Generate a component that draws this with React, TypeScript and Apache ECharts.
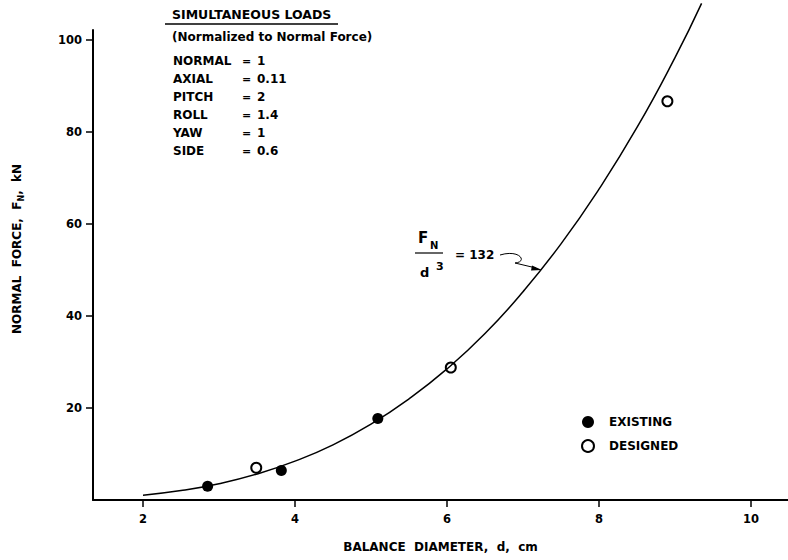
import React, { useEffect, useRef } from 'react';
import * as echarts from 'echarts';

const xTicks = [2, 4, 6, 8, 10];
const yTicks = [20, 40, 60, 80, 100];
const curveD = [2, 2.5, 3, 3.5, 4, 4.5, 5, 5.5, 6, 6.5, 7, 7.5, 8, 8.5, 9, 9.35];
const curveF = [1.05, 2.05, 3.55, 5.65, 8.45, 12.0, 16.5, 22.0, 28.5, 36.2, 45.3, 55.7, 67.6, 81.0, 96.2, 108];
const existingD = [2.85, 3.82, 5.09];
const existingF = [3.0, 6.4, 17.7];
const designedD = [3.49, 6.05, 8.9];
const designedF = [7.0, 28.8, 86.7];
const loadNames = ['NORMAL', 'AXIAL', 'PITCH', 'ROLL', 'YAW', 'SIDE'];
const loadValues = ['1', '0.11', '2', '1.4', '1', '0.6'];

const FONT = "'DejaVu Sans', 'Liberation Sans', sans-serif";

export default function App() {
  const ref = useRef<HTMLDivElement>(null);
  useEffect(() => {
    if (!ref.current) return;
    const chart = echarts.init(ref.current, null, { renderer: 'svg' });
    const txt = (text: string, x: number, y: number, size = 10, extra: any = {}) => ({
      type: 'text',
      x,
      y,
      style: { text, fill: '#000', font: `bold ${size}px ${FONT}`, textVerticalAlign: 'middle', ...extra },
    });
    const graphics: any[] = [
      txt('SIMULTANEOUS LOADS', 172, 14, 12.5),
      { type: 'line', shape: { x1: 165, y1: 24, x2: 338, y2: 24 }, style: { stroke: '#000', lineWidth: 1.5 } },
      txt('(Normalized to Normal Force)', 172, 37, 12),
    ];
    loadNames.forEach((n, i) => {
      const y = 61 + i * 18;
      graphics.push(txt(n, 173, y, 12));
      graphics.push(txt('=', 242, y, 11));
      graphics.push(txt(loadValues[i], 257, y, 12));
    });
    // Y axis name
    graphics.push({
      type: 'text',
      x: 17,
      y: 334,
      rotation: Math.PI / 2,
      style: {
        text: 'NORMAL  FORCE,  F{sub|N},  kN',
        fill: '#000',
        font: `bold 12px ${FONT}`,
        align: 'left',
        verticalAlign: 'middle',
        rich: {
          sub: { fontSize: 8, fontWeight: 'bold', fontFamily: FONT, padding: [9, 0, 0, 0] },
        },
      },
    });
    // fraction annotation
    graphics.push(txt('F', 418, 238, 15));
    graphics.push(txt('N', 430, 245, 10));
    graphics.push({ type: 'line', shape: { x1: 415, y1: 253, x2: 443, y2: 253 }, style: { stroke: '#000', lineWidth: 1.2 } });
    graphics.push(txt('d', 420, 272, 13));
    graphics.push(txt('3', 436, 266, 11));
    graphics.push(txt('= 132', 455, 255, 12));
    graphics.push({
      type: 'bezierCurve',
      shape: { x1: 500, y1: 255, cpx1: 520, cpy1: 249, cpx2: 528, cpy2: 262, x2: 515, y2: 263 },
      style: { stroke: '#000', lineWidth: 1, fill: 'none' },
    });
    graphics.push({
      type: 'line',
      shape: { x1: 515, y1: 263, x2: 536, y2: 268 },
      style: { stroke: '#000', lineWidth: 1 },
    });
    graphics.push({
      type: 'polygon',
      shape: { points: [[542, 270], [532, 265.5], [531, 270.5]] },
      style: { fill: '#000' },
    });

    chart.setOption({
      animation: false,
      backgroundColor: '#fff',
      grid: { left: 93, right: 0, top: 30, bottom: 60, containLabel: false },
      xAxis: {
        type: 'value',
        min: 1.342,
        max: 10.487,
        splitLine: { show: false },
        axisLine: { show: true, lineStyle: { color: '#000', width: 2 } },
        axisTick: { show: true, customValues: xTicks, length: 7, lineStyle: { color: '#000', width: 1.5 } },
        axisLabel: { customValues: xTicks, color: '#000', fontFamily: FONT, fontWeight: 'bold', fontSize: 11.5, margin: 13 },
        name: 'BALANCE  DIAMETER,  d,  cm',
        nameLocation: 'middle',
        nameGap: 41,
        nameTextStyle: { color: '#000', fontFamily: FONT, fontWeight: 'bold', fontSize: 12 },
      },
      yAxis: {
        type: 'value',
        min: 0,
        max: 102.2,
        splitLine: { show: false },
        axisLine: { show: true, onZero: false, lineStyle: { color: '#000', width: 2 } },
        axisTick: { show: true, customValues: yTicks, length: 7, lineStyle: { color: '#000', width: 1.5 } },
        axisLabel: { customValues: yTicks, color: '#000', fontFamily: FONT, fontWeight: 'bold', fontSize: 11.5, margin: 11 },
      },
      legend: {
        orient: 'vertical',
        left: 576,
        top: 411,
        itemWidth: 12,
        itemHeight: 12,
        itemGap: 11,
        data: [
          { name: 'EXISTING', icon: 'circle' },
          { name: 'DESIGNED', icon: 'emptyCircle' },
        ],
        textStyle: { color: '#000', fontFamily: FONT, fontWeight: 'bold', fontSize: 12, padding: [0, 0, 0, 10] },
      },
      graphic: graphics,
      series: [
        {
          name: 'curve',
          type: 'line',
          smooth: true,
          clip: false,
          symbol: 'none',
          silent: true,
          lineStyle: { color: '#000', width: 1.5 },
          data: curveD.map((d, i) => [d, curveF[i]]),
        },
        {
          name: 'EXISTING',
          type: 'scatter',
          symbol: 'circle',
          symbolSize: 11,
          itemStyle: { color: '#000', opacity: 1 },
          data: existingD.map((d, i) => [d, existingF[i]]),
        },
        {
          name: 'DESIGNED',
          type: 'scatter',
          symbol: 'emptyCircle',
          symbolSize: 10,
          itemStyle: { color: '#000', borderColor: '#000', borderWidth: 1.5, opacity: 1 },
          data: designedD.map((d, i) => [d, designedF[i]]),
        },
      ],
    });
    return () => chart.dispose();
  }, []);
  return <div ref={ref} style={{ position: 'fixed', left: 0, top: 0, width: 788, height: 560, background: '#fff' }} />;
}
